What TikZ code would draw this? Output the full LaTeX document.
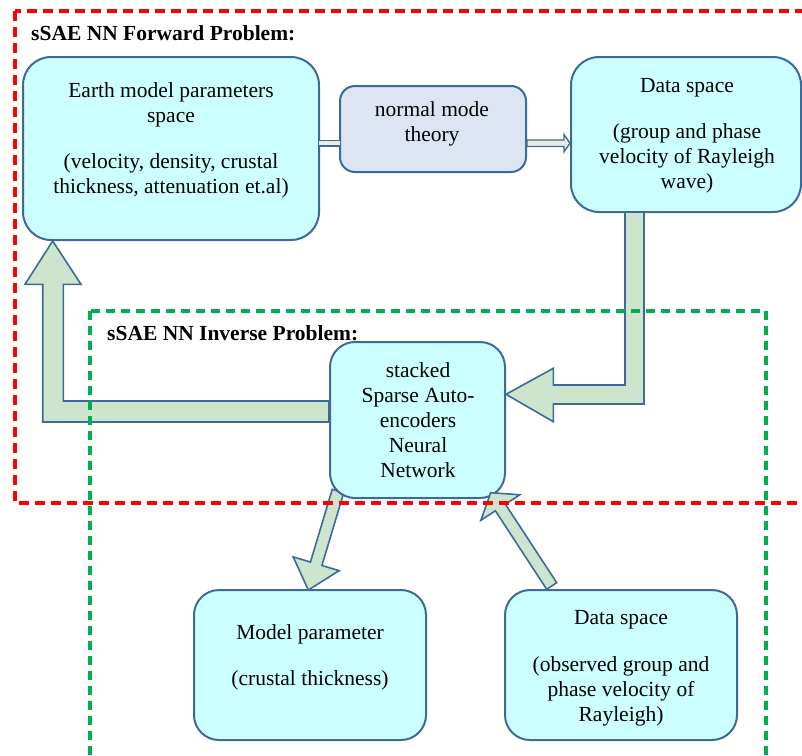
\documentclass[tikz,border=0pt]{standalone}
\usepackage{fontspec}
\setmainfont{Liberation Serif}
\usetikzlibrary{calc}
\definecolor{boxfill}{HTML}{CCFFFF}
\definecolor{boxline}{HTML}{3E6A9A}
\definecolor{nmfill}{HTML}{DCE6F2}
\definecolor{arrfill}{HTML}{CCE5CC}
\definecolor{barcream}{HTML}{EEECE1}
\definecolor{fwdred}{HTML}{FF0000}
\definecolor{invgreen}{HTML}{00B050}
\begin{document}
\begin{tikzpicture}[x=1pt,y=-1pt,
  rbox/.style={draw=boxline, line width=2pt, fill=boxfill, rounded corners=#1, inner sep=0pt},
  nmbox/.style={draw=boxline, line width=2pt, fill=nmfill, rounded corners=15pt, inner sep=0pt},
  txt/.style={align=center, inner sep=0pt, anchor=base, font=\fontsize{21.5}{25}\selectfont},
  ttl/.style={inner sep=0pt, anchor=base west, font=\fontsize{21.5}{25}\selectfont\bfseries},
  blockarrow/.style={fill=arrfill, draw=boxline, line width=1.6pt, line join=miter},
  fwdframe/.style={draw=fwdred, line width=3.2pt, dash pattern=on 10pt off 6pt},
  invframe/.style={draw=invgreen, line width=3.2pt, dash pattern=on 9pt off 6pt}
]
\useasboundingbox (0,0) rectangle (802,755);
\clip (0,0) rectangle (802,755);

% arrow from network to model parameter box (behind the boxes)
\coordinate (s3) at (338,491);
\coordinate (t3) at (308.3,590);
\coordinate (b3) at ($(t3)!27.4pt!(s3)$);
\draw[blockarrow] ($(s3)!6pt!90:(t3)$) -- ($(b3)!6pt!90:(t3)$) -- ($(b3)!24pt!90:(t3)$)
  -- (t3) -- ($(b3)!24pt!-90:(t3)$) -- ($(b3)!6pt!-90:(t3)$) -- ($(s3)!6pt!-90:(t3)$) -- cycle;

% boxes
\node[rbox=28pt, minimum width=296pt, minimum height=183pt] (earth) at (171,148.5) {};
\node[nmbox, minimum width=186pt, minimum height=86pt] (nmt) at (433,129) {};
\node[rbox=28pt, minimum width=230pt, minimum height=155pt] (data) at (686,134.5) {};
\node[rbox=25pt, minimum width=175pt, minimum height=156pt] (sae) at (417.5,420) {};
\node[rbox=25pt, minimum width=232pt, minimum height=150pt] (model) at (310,665) {};
\node[rbox=25pt, minimum width=232pt, minimum height=150pt] (obs) at (621,665) {};

% double-line connectors (forward problem)
\draw[boxline, line width=7pt] (earth.east |- 0,143.3) -- (nmt.west |- 0,143.3);
\draw[barcream, line width=4pt] ([xshift=-1pt]earth.east |- 0,143.3) -- ([xshift=1pt]nmt.west |- 0,143.3);
\draw[fill=barcream, draw=boxline, line width=1.4pt, line join=miter]
  (nmt.east |- 0,140) -- (564,140) -- (564,134.5) -- (data.west |- 0,143.2) -- (564,151.8) -- (564,146.5) -- (nmt.east |- 0,146.5) -- cycle;

% block arrow data space -> network
\draw[blockarrow] (625,212) -- (644,212) -- (644,404) -- (553.3,404) -- (553.3,421.7)
  -- (sae.east |- 0,394.3) -- (553.3,368.3) -- (553.3,385) -- (625,385) -- cycle;

% block arrow network -> earth model
\draw[blockarrow] (sae.west |- 0,401) -- (63.3,401) -- (63.3,284.3) -- (81,284.3)
  -- (earth.south -| 52.7,0) -- (25,284.3) -- (42.7,284.3) -- (42.7,422) -- (sae.west |- 0,422) -- cycle;

% block arrow observed data -> network
\coordinate (s4) at (551.7,586);
\coordinate (t4) at (490.7,492.7);
\coordinate (b4) at ($(t4)!17.7pt!(s4)$);
\draw[blockarrow] ($(s4)!6pt!90:(t4)$) -- ($(b4)!6pt!90:(t4)$) -- ($(b4)!23.3pt!90:(t4)$)
  -- (t4) -- ($(b4)!23.3pt!-90:(t4)$) -- ($(b4)!6pt!-90:(t4)$) -- ($(s4)!6pt!-90:(t4)$) -- cycle;

% texts (anchor = baseline of last line)
\node[txt] (earthtxt) at (171,193) {Earth model parameters\\ space\\[21pt] (velocity, density, crustal\\ thickness, attenuation et.al)};
\node[txt] (nmttxt) at (432,141) {normal mode\\ theory};
\node[txt] (datatxt) at (687,188) {Data space\\[21pt] (group and phase\\ velocity of Rayleigh\\ wave)};
\node[txt] (saetxt) at (418,477) {stacked\\ Sparse Auto-\\ encoders\\ Neural\\ Network};
\node[txt] (modeltxt) at (310,685) {Model parameter\\[21pt] (crustal thickness)};
\node[txt] (obstxt) at (621,721) {Data space\\[22pt] (observed group and\\ phase velocity of\\ Rayleigh)};

% frames
\draw[fwdframe] (15,11) rectangle (830,503);
\draw[invframe] (90,311) rectangle (766,780);

% titles
\node[ttl] (fwdtitle) at (31,40.7) {sSAE NN Forward Problem:};
\node[ttl] (invtitle) at (107,340) {sSAE NN Inverse Problem:};
\end{tikzpicture}
\end{document}
